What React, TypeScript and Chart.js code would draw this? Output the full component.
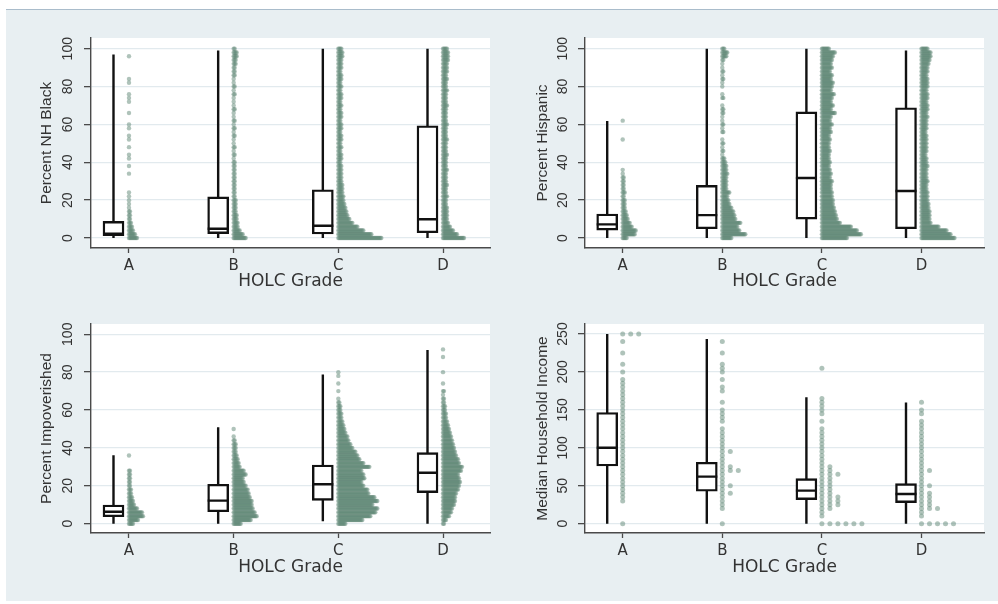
import React, { useEffect, useRef } from "react";
import { Chart, registerables } from "chart.js";
Chart.register(...registerables);

// ---------------- data ----------------
const grades = ["A", "B", "C", "D"];
const percentTicks = [0, 20, 40, 60, 80, 100];
const incomeTicks = [0, 50, 100, 150, 200, 250];
const percentBin = 2; // stack bins (percentage points)
const incomeBin = 5; // stack bins ($1000)

// box plots: [min, q1, median, q3, max] per grade A..D
const blackBoxes = [
  [0, 1.2, 2.3, 8.8, 97],
  [0, 2.3, 4.9, 21.7, 99],
  [0, 2.1, 6.5, 25.5, 100],
  [0, 2.8, 9.9, 59.3, 100],
];
const hispanicBoxes = [
  [0, 4.2, 7.2, 12.7, 61.8],
  [0, 4.9, 12.1, 27.8, 100],
  [0, 10, 31.7, 66.6, 100],
  [0, 4.9, 24.8, 68.8, 99],
];
const povertyBoxes = [
  [0, 3.7, 6.3, 9.9, 36.1],
  [0, 6.3, 12.2, 20.8, 50.9],
  [1.3, 12.3, 20.8, 31, 78.7],
  [0, 16.4, 26.9, 37.5, 91.7],
];
const incomeBoxes = [
  [0, 76, 100, 146.5, 250],
  [0, 42.7, 62, 81, 243.4],
  [0, 31.7, 43.6, 59.4, 166.8],
  [0, 27.7, 39.2, 52.8, 159.7],
];

// stacked dot counts per bin (bin i = value i*bin), grades A..D
const blackStrips = [
  [9,7,5,4,3,2,2,2,1,1, 1,1,1,0,0,0,0,1,0,1, 0,1,1,0,1,0,1,1,0,1, 1,0,0,1,0,0,1,1,1,0, 0,1,1,0,0,0,0,0,1,0, 0],
  [13,10,7,5,5,4,4,3,3,3, 3,2,2,2,2,2,2,2,2,2, 2,1,2,1,2,1,1,2,1,2, 1,2,1,1,2,1,1,1,2,1, 2,1,1,2,2,2,3,3,4,4, 2],
  [44,34,26,20,15,12,10,9,8,7, 6,6,5,5,5,4,4,4,4,4, 3,4,4,3,4,3,4,4,3,4, 4,3,4,4,3,4,3,4,4,3, 4,3,4,4,3,4,4,4,5,5, 4],
  [22,15,11,8,6,5,5,5,5,4, 4,5,4,4,5,4,4,4,5,4, 4,4,5,4,4,4,5,4,4,4, 5,4,4,4,4,5,4,4,4,5, 4,4,5,4,5,5,5,6,6,6, 5],
];
const hispanicStrips = [
  [5,13,14,10,8,6,5,4,3,3, 3,2,3,2,2,2,2,1,1,0, 0,0,0,0,0,0,1,0,0,0, 0,1,0,0,0,0,0,0,0,0, 0,0,0,0,0,0,0,0,0,0, 0],
  [10,24,18,16,19,14,13,12,10,8, 7,6,8,5,5,5,5,6,5,5, 4,3,1,2,1,2,1,0,2,1, 2,1,1,2,2,1,0,2,1,0, 1,1,2,1,2,1,1,2,5,6, 3],
  [26,40,36,30,19,16,15,14,13,12, 12,11,11,10,10,11,9,10,9,8, 9,8,8,9,8,8,9,8,10,9, 11,9,10,14,10,12,10,11,13,10, 11,12,10,11,9,11,10,11,12,14, 8],
  [34,30,26,18,10,9,9,9,8,8, 7,7,7,6,6,7,6,6,6,7, 6,6,5,6,6,6,6,6,5,6, 6,6,7,6,7,7,6,7,7,6, 7,7,7,6,7,7,8,9,10,10, 7],
];
const povertyStrips = [
  [5,10,15,14,9,6,5,4,3,3, 2,2,2,2,2,0,0,0,1,0, 0,0,0,0,0,0,0,0,0,0, 0,0,0,0,0,0,0,0,0,0, 0,0,0,0,0,0,0,0,0,0, 0],
  [8,18,24,22,20,19,19,17,16,15, 13,11,10,13,11,7,6,5,4,3, 3,3,2,1,0,1,0,0,0,0, 0,0,0,0,0,0,0,0,0,0, 0,0,0,0,0,0,0,0,0,0, 0],
  [8,25,33,38,40,35,40,37,31,30, 26,24,27,26,24,32,26,22,20,18, 15,13,11,10,8,7,6,5,4,4, 3,3,2,1,0,1,0,1,0,1, 1,0,0,0,0,0,0,0,0,0, 0],
  [2,4,7,9,10,12,13,13,14,16, 17,18,17,16,19,20,17,16,14,13, 12,11,10,9,8,7,6,5,4,4, 3,3,2,2,1,2,0,1,0,0, 1,0,0,0,1,0,1,0,0,0, 0],
];
const incomeStrips = [
  [1,0,0,0,0,0,1,1,1,1, 1,1,1,1,1,1,1,1,1,1, 1,1,1,1,1,1,1,1,1,1, 1,1,1,1,1,1,1,1,1,0, 1,0,1,0,0,1,0,0,1,0, 3],
  [1,0,0,0,1,1,1,1,2,1, 2,1,1,1,3,2,1,1,1,2, 1,1,1,1,1,1,0,1,1,1, 1,0,1,0,0,1,1,0,1,0, 1,1,1,0,0,1,0,0,1,0, 0],
  [6,0,1,1,2,3,3,3,2,2, 2,2,2,3,2,2,1,1,1,1, 1,1,1,1,1,1,0,1,0,1, 1,1,1,1,0,0,0,0,0,0, 0,1,0,0,0,0,0,0,0,0, 0],
  [5,0,1,1,3,2,2,2,2,1, 2,1,1,1,2,1,1,1,1,1, 1,1,1,1,1,1,1,1,0,1, 1,0,1,0,0,0,0,0,0,0, 0,0,0,0,0,0,0,0,0,0, 0],
];

// ---------------- style / layout ----------------
const INK = "#111111";
const AXIS = "#4a4a4a";
const TEXT = "#333333";
const GRID = "#e2eaee";
const PLOT_BG = "#ffffff";
const PAGE_BG = "#e8eff2";
const DOT = "rgba(95,135,118,0.5)";
const PLOT_W = 399;
const BOX_OFFSET_PX = 15.5;
const BOX_W_PX = 21;

type PanelCfg = {
  id: string;
  yTitle: string;
  boxes: number[][];
  strips: number[][];
  bin: number;
  ticks: number[];
  yMin: number;
  yMax: number;
  xMin: number;
  xMax: number;
  left: number;
  top: number;
  width: number;
  height: number;
  padTop: number;
  padRight: number;
  xAxisH: number;
  xTitlePad: number;
  yTitlePad: number;
  yLabelDx: number;
  stepPx: number;
  dotR: number;
};

const panels: PanelCfg[] = [
  { id: "black", yTitle: "Percent NH Black", boxes: blackBoxes, strips: blackStrips, bin: percentBin, ticks: percentTicks,
    yMin: -5.28, yMax: 105.65, xMin: -0.363, xMax: 3.449, left: 6, top: 10, width: 494, height: 290,
    padTop: 28, padRight: 10, xAxisH: 52, xTitlePad: 7.8, yTitlePad: 31.7, yLabelDx: 23, stepPx: 1, dotR: 2.2 },
  { id: "hispanic", yTitle: "Percent Hispanic", boxes: hispanicBoxes, strips: hispanicStrips, bin: percentBin, ticks: percentTicks,
    yMin: -5.28, yMax: 105.65, xMin: -0.3785, xMax: 3.6275, left: 500, top: 10, width: 498, height: 290,
    padTop: 28, padRight: 14, xAxisH: 52, xTitlePad: 7.8, yTitlePad: 33.7, yLabelDx: 21.5, stepPx: 1, dotR: 2.2 },
  { id: "poverty", yTitle: "Percent Impoverished", boxes: povertyBoxes, strips: povertyStrips, bin: percentBin, ticks: percentTicks,
    yMin: -4.9, yMax: 105.4, xMin: -0.363, xMax: 3.449, left: 6, top: 300, width: 494, height: 300,
    padTop: 24, padRight: 10, xAxisH: 67, xTitlePad: 22.1, yTitlePad: 31.7, yLabelDx: 23, stepPx: 1, dotR: 2.2 },
  { id: "income", yTitle: "Median Household Income", boxes: incomeBoxes, strips: incomeStrips, bin: incomeBin, ticks: incomeTicks,
    yMin: -12.3, yMax: 263.2, xMin: -0.3785, xMax: 3.6275, left: 500, top: 300, width: 498, height: 300,
    padTop: 24, padRight: 14, xAxisH: 67, xTitlePad: 22.1, yTitlePad: 33.7, yLabelDx: 21.5, stepPx: 8, dotR: 2.5 },
];

const plotBg = {
  id: "plotBg",
  beforeDraw(chart: any) {
    const { ctx, chartArea: a } = chart;
    ctx.save();
    ctx.fillStyle = PLOT_BG;
    ctx.fillRect(a.left, a.top, a.right - a.left, a.bottom - a.top);
    ctx.restore();
  },
};

// vertical (rotated) y tick labels, placed from the y scale's own ticks
const rotatedYLabels = {
  id: "rotatedYLabels",
  afterDraw(chart: any, _args: any, opts: any) {
    const s = chart.scales.y;
    const ctx = chart.ctx;
    ctx.save();
    ctx.fillStyle = TEXT;
    ctx.font = '14px "Liberation Sans"';
    ctx.textAlign = "center";
    ctx.textBaseline = "middle";
    s.ticks.forEach((t: any) => {
      const y = s.getPixelForValue(t.value);
      ctx.save();
      ctx.translate(s.right - opts.dx, y);
      ctx.rotate(-Math.PI / 2);
      ctx.fillText(String(t.value), 0, 0);
      ctx.restore();
    });
    ctx.restore();
  },
};

function Panel({ p }: { p: PanelCfg }) {
  const ref = useRef<HTMLCanvasElement | null>(null);
  useEffect(() => {
    const canvas = ref.current;
    if (!canvas) return;
    const ppu = PLOT_W / (p.xMax - p.xMin);
    const boxOff = BOX_OFFSET_PX / ppu;
    const half = BOX_W_PX / 2 / ppu;
    const step = p.stepPx / ppu;

    const dots: any[] = [];
    p.strips.forEach((counts, c) =>
      counts.forEach((n, i) => {
        for (let k = 0; k < n; k++) dots.push({ x: c + k * step, y: i * p.bin });
      })
    );
    const whiskers: any[] = [];
    const medians: any[] = [];
    const boxes: any[] = [];
    p.boxes.forEach(([lo, q1, med, q3, hi], c) => {
      const bx = c - boxOff;
      whiskers.push({ x: bx, y: lo }, { x: bx, y: hi }, { x: bx, y: null });
      medians.push({ x: bx - half, y: med }, { x: bx + half, y: med }, { x: bx, y: null });
      boxes.push({ x: bx, y: [q1, q3] });
    });

    const chart = new Chart(canvas, {
      type: "scatter",
      data: {
        datasets: [
          { type: "line", data: medians, borderColor: INK, borderWidth: 2.4, pointRadius: 0, showLine: true, spanGaps: false, borderCapStyle: "butt", order: 0 } as any,
          { type: "bar", data: boxes, backgroundColor: "#ffffff", borderColor: INK, borderWidth: 2.4, borderSkipped: false, barThickness: BOX_W_PX, order: 1 } as any,
          { type: "line", data: whiskers, borderColor: INK, borderWidth: 2.4, pointRadius: 0, showLine: true, spanGaps: false, borderCapStyle: "butt", order: 2 } as any,
          { type: "scatter", data: dots, pointRadius: p.dotR, pointHoverRadius: p.dotR, backgroundColor: DOT, borderWidth: 0, order: 3 } as any,
        ],
      },
      options: {
        responsive: false,
        animation: false,
        events: [],
        layout: { padding: { left: 0, top: p.padTop, right: p.padRight, bottom: 0 } },
        plugins: { legend: { display: false }, tooltip: { enabled: false }, rotatedYLabels: { dx: p.yLabelDx } },
        scales: {
          x: {
            type: "linear",
            min: p.xMin,
            max: p.xMax,
            offset: false,
            afterBuildTicks: (s: any) => {
              s.ticks = grades.map((_, i) => ({ value: i }));
            },
            afterFit: (s: any) => {
              s.height = p.xAxisH;
            },
            ticks: {
              autoSkip: false,
              minRotation: 0,
              maxRotation: 0,
              padding: 4,
              color: TEXT,
              font: { family: "DejaVu Sans", size: 15 },
              callback: (v: any) => grades[Math.round(Number(v))] ?? "",
            },
            grid: { offset: false, drawOnChartArea: false, drawTicks: true, tickLength: 5, tickColor: AXIS, tickWidth: 1.3 },
            border: { display: true, color: AXIS, width: 1.4 },
            title: { display: true, text: "HOLC Grade", color: TEXT, font: { family: "DejaVu Sans", size: 17 }, padding: { top: 0, bottom: p.xTitlePad } },
          },
          y: {
            type: "linear",
            min: p.yMin,
            max: p.yMax,
            beginAtZero: false,
            afterBuildTicks: (s: any) => {
              s.ticks = p.ticks.map((v) => ({ value: v }));
            },
            afterFit: (s: any) => {
              s.width = 85;
            },
            ticks: { display: false },
            grid: { offset: false, color: GRID, lineWidth: 1.3, tickColor: AXIS, tickLength: 7, tickWidth: 1.3 },
            border: { display: true, color: AXIS, width: 1.4 },
            title: { display: true, text: p.yTitle, color: TEXT, font: { family: "Liberation Sans", size: 15.5 }, padding: { top: p.yTitlePad, bottom: 0 } },
          },
        },
      } as any,
      plugins: [plotBg, rotatedYLabels],
    });
    return () => chart.destroy();
  }, [p]);
  return (
    <canvas
      ref={ref}
      width={p.width}
      height={p.height}
      style={{ position: "absolute", left: p.left, top: p.top, width: p.width, height: p.height }}
    />
  );
}

export default function App() {
  return (
    <div style={{ position: "absolute", left: 0, top: 0, width: 998, height: 604, background: "#ffffff", overflow: "hidden" }}>
      <div style={{ position: "absolute", left: 6, top: 9, width: 992, height: 592, background: PAGE_BG, borderTop: "1.5px solid #a9bccb", boxSizing: "border-box" }} />
      {panels.map((p) => (
        <Panel key={p.id} p={p} />
      ))}
    </div>
  );
}
